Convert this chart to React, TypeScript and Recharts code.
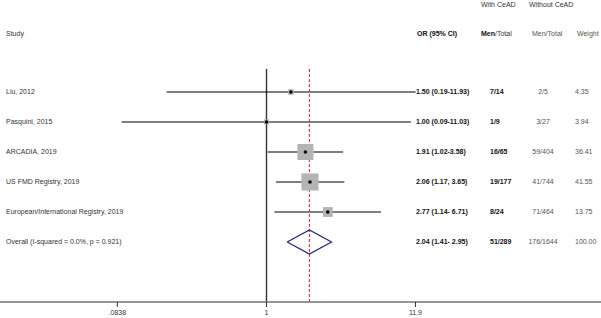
import { ComposedChart, XAxis, YAxis, Scatter, ReferenceLine, Customized } from "recharts"

// study rows, top to bottom
const studies = ["Liu, 2012", "Pasquini, 2015", "ARCADIA, 2019", "US FMD Registry, 2019", "European/International Registry, 2019"]
const oddsRatios = [1.5, 1.0, 1.91, 2.06, 2.77]
const ciLow = [0.19, 0.09, 1.02, 1.17, 1.14]
const ciHigh = [11.93, 11.03, 3.58, 3.65, 6.71]
const weights = [4.35, 3.94, 36.41, 41.55, 13.75]
const orLabels = ["1.50  (0.19-11.93)", "1.00  (0.09-11.03)", "1.91  (1.02-3.58)", "2.06 (1.17, 3.65)", "2.77  (1.14- 6.71)"]
const withCeAD = ["7/14", "1/9", "16/65", "19/177", "8/24"]
const withoutCeAD = ["2/5", "3/27", "59/404", "41/744", "71/464"]

// pooled estimate
const overallLabel = "Overall  (I-squared = 0.0%, p = 0.921)"
const overallOR = 2.04
const overallLow = 1.41
const overallHigh = 2.95
const overallORLabel = "2.04  (1.41- 2.95)"
const overallWith = "51/289"
const overallWithout = "176/1644"
const overallWeight = 100

// x axis ticks (odds ratio, log scale)
const tickValues = [0.0838, 1, 11.9]
const tickLabels = [".0838", "1", "11.9"]

const log = Math.log10
const FONT = "'Liberation Sans', Arial, Helvetica, sans-serif"

const studyRows = studies.map((name, i) => ({
  x: log(oddsRatios[i]),
  y: i,
  weight: weights[i],
}))

const textRows = [
  ...studies.map((name, i) => ({
    x: 0,
    y: i,
    name,
    orText: orLabels[i],
    withText: withCeAD[i],
    withoutText: withoutCeAD[i],
    weightText: weights[i].toFixed(2),
  })),
  {
    x: 0,
    y: studies.length,
    name: overallLabel,
    orText: overallORLabel,
    withText: overallWith,
    withoutText: overallWithout,
    weightText: overallWeight.toFixed(2),
  },
]

const overallRow = studies.length
const diamond = [
  { x: log(overallLow), y: overallRow },
  { x: log(overallOR), y: overallRow - 0.4 },
  { x: log(overallHigh), y: overallRow },
  { x: log(overallOR), y: overallRow + 0.4 },
  { x: log(overallLow), y: overallRow },
]

const WeightBox = (props: any) => {
  const { cx, cy, payload } = props
  const side = 2.65 * Math.sqrt(payload.weight)
  return (
    <g>
      <rect x={cx - side / 2} y={cy - side / 2} width={side} height={side} fill="#b4b4b4" />
      <circle cx={cx} cy={cy} r={1.8} fill="#000" />
    </g>
  )
}

const RowText = (props: any) => {
  const { cy, payload } = props
  return (
    <g fontFamily={FONT} fontSize={7} style={{ whiteSpace: "pre" }}>
      <text x={6} y={cy} dy="0.35em" fill="#333">{payload.name}</text>
      <text x={416} y={cy} dy="0.35em" fill="#111" fontWeight="bold">{payload.orText}</text>
      <text x={490} y={cy} dy="0.35em" fill="#111" fontWeight="bold">{payload.withText}</text>
      <text x={543} y={cy} dy="0.35em" fill="#555" textAnchor="middle">{payload.withoutText}</text>
      <text x={575} y={cy} dy="0.35em" fill="#555">{payload.weightText}</text>
    </g>
  )
}

const Headers = () => (
  <g fontFamily={FONT} fontSize={7} fill="#333">
    <text x={481} y={5} dy="0.35em">With CeAD</text>
    <text x={529} y={5} dy="0.35em">Without CeAD</text>
    <text x={6} y={34} dy="0.35em">Study</text>
    <text x={417} y={34} dy="0.35em" fontWeight="bold" fill="#111">OR (95% CI)</text>
    <text x={481} y={34} dy="0.35em">
      <tspan fontWeight="bold" fill="#111">Men</tspan>/Total
    </text>
    <text x={532} y={34} dy="0.35em" fill="#555">Men/Total</text>
    <text x={577} y={34} dy="0.35em" fill="#555">Weight</text>
  </g>
)

export default function App() {
  const lineTop = -0.77
  const lineBottom = 7
  return (
    <div style={{ position: "absolute", left: 0, top: 0, width: 601, height: 318, background: "#fff" }}>
      <ComposedChart width={601} height={318} margin={{ top: 0, right: 0, bottom: 0, left: 0 }}>
        <XAxis
          type="number"
          dataKey="x"
          domain={[-1.924, 2.415]}
          allowDataOverflow
          ticks={tickValues.map(log)}
          tickFormatter={(v: number) => tickLabels[tickValues.findIndex((t) => Math.abs(log(t) - v) < 1e-6)]}
          height={16}
          tickSize={5}
          tickMargin={3}
          axisLine={{ stroke: "#707070", strokeWidth: 1.6 }}
          tickLine={{ stroke: "#333" }}
          tick={{ fontSize: 7, fontFamily: FONT, fill: "#333" }}
        />
        <YAxis type="number" dataKey="y" domain={[-3.0667, 7]} reversed hide allowDataOverflow />
        <ReferenceLine
          segment={[{ x: 0, y: lineTop }, { x: 0, y: lineBottom }]}
          stroke="#333"
          strokeWidth={1.4}
        />
        {studies.map((s, i) => (
          <ReferenceLine
            key={s}
            segment={[{ x: log(ciLow[i]), y: i }, { x: log(ciHigh[i]), y: i }]}
            stroke="#000"
            strokeWidth={1.1}
          />
        ))}
        <ReferenceLine
          segment={[{ x: log(overallOR), y: lineTop }, { x: log(overallOR), y: lineBottom }]}
          stroke="#b8325a"
          strokeDasharray="3 2"
          strokeWidth={1.1}
        />
        <Scatter data={studyRows} shape={WeightBox} isAnimationActive={false} />
        <Scatter
          data={diamond}
          line={{ stroke: "#22227a", strokeWidth: 1.2 }}
          shape={() => <g />}
          isAnimationActive={false}
        />
        <Scatter data={textRows} shape={RowText} isAnimationActive={false} />
        <Customized component={Headers} />
      </ComposedChart>
    </div>
  )
}
